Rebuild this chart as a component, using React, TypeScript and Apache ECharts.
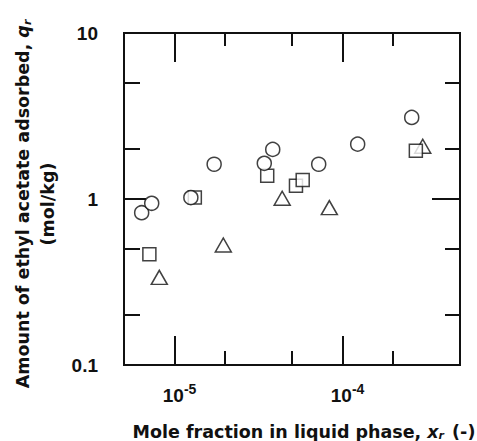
import React, { useEffect, useRef } from "react";
import * as echarts from "echarts";

const circleX = [6.37e-6, 7.31e-6, 1.25e-5, 1.72e-5, 3.42e-5, 3.84e-5, 7.21e-5, 1.23e-4, 2.58e-4];
const circleY = [0.827, 0.942, 1.02, 1.62, 1.64, 1.99, 1.62, 2.14, 3.1];
const squareX = [7.08e-6, 1.32e-5, 3.56e-5, 5.28e-5, 5.79e-5, 2.73e-4];
const squareY = [0.465, 1.02, 1.38, 1.2, 1.3, 1.95];
const triangleX = [8.11e-6, 1.95e-5, 4.37e-5, 8.34e-5, 3.0e-4];
const triangleY = [0.337, 0.528, 1.01, 0.887, 2.08];

const xMajor = [1e-5, 1e-4];
const xMinor = [2e-5, 5e-5, 2e-4];
const yMajor = [1];
const yMinor = [0.2, 0.5, 2, 5];
const yLabels = [0.1, 1, 10];

const TITLE_FONT = "DejaVu Sans";
const TICK_FONT = "Liberation Sans";
const INK = "#111";

function pairs(xs: number[], ys: number[]) {
  return xs.map((x, i) => [x, ys[i]]);
}

export default function App() {
  const ref = useRef<HTMLDivElement>(null);
  useEffect(() => {
    if (!ref.current) return;
    const chart = echarts.init(ref.current, null, { renderer: "svg" });
    const xRange = { type: "log" as const, min: 5e-6, max: 5e-4, splitLine: { show: false } };
    const yRange = { type: "log" as const, min: 0.1, max: 10, splitLine: { show: false } };
    const tickStyle = { color: INK, width: 2 };
    const mkX = (pos: "top" | "bottom", vals: number[], len: number, extra: any = {}) => ({
      ...xRange,
      position: pos,
      axisLine: { show: false },
      axisTick: { show: true, inside: true, length: len, customValues: vals, lineStyle: tickStyle },
      axisLabel: { show: false },
      ...extra,
    });
    const mkY = (pos: "left" | "right", vals: number[], len: number, extra: any = {}) => ({
      ...yRange,
      position: pos,
      axisLine: { show: false },
      axisTick: { show: true, inside: true, length: len, customValues: vals, lineStyle: tickStyle },
      axisLabel: { show: false },
      ...extra,
    });
    chart.setOption({
      animation: false,
      backgroundColor: "#fff",
      grid: {
        left: 124,
        top: 33,
        width: 336,
        height: 332,
        containLabel: false,
        outerBoundsMode: "none",
        show: true,
        borderColor: INK,
        borderWidth: 2,
        backgroundColor: "transparent",
      },
      xAxis: [
        mkX("bottom", xMajor, 29, {
          name: "Mole fraction in liquid phase, {i|x}{sub|r} (-)",
          nameLocation: "middle",
          nameGap: 57,
          nameTextStyle: {
            fontFamily: TITLE_FONT,
            fontSize: 17.5,
            fontWeight: "bold",
            color: INK,
            padding: [0, 0, 0, 24],
            rich: {
              i: { fontFamily: TITLE_FONT, fontSize: 17.5, fontWeight: "bold", fontStyle: "italic", color: INK },
              sub: { fontFamily: TITLE_FONT, fontSize: 11, fontWeight: "bold", fontStyle: "italic", color: INK, padding: [8, 2, 0, 0] },
            },
          },
          axisLabel: {
            show: true,
            customValues: xMajor,
            margin: 17,
            fontFamily: TICK_FONT,
            fontSize: 19,
            fontWeight: "bold",
            color: INK,
            padding: [0, 0, 0, 10],
            formatter: (v: number) => "10{sup|" + Math.round(Math.log10(v)) + "}",
            rich: {
              sup: { fontFamily: TICK_FONT, fontSize: 14, fontWeight: "bold", color: INK, padding: [0, 0, 12, 0] },
            },
          },
        }),
        mkX("bottom", xMinor, 14),
        mkX("top", xMajor, 29),
        mkX("top", xMinor, 13),
      ],
      yAxis: [
        mkY("left", yMajor, 22, {
          name: "Amount of ethyl acetate adsorbed, {i|q}{sub|r}\n(mol/kg)",
          nameLocation: "middle",
          nameRotate: 90,
          nameGap: 53,
          nameTextStyle: {
            fontFamily: TITLE_FONT,
            fontSize: 17.5,
            fontWeight: "bold",
            color: INK,
            lineHeight: 25,
            align: "center",
            padding: [0, 10, 0, 0],
            rich: {
              i: { fontFamily: TITLE_FONT, fontSize: 17.5, fontWeight: "bold", fontStyle: "italic", color: INK, lineHeight: 25 },
              sub: { fontFamily: TITLE_FONT, fontSize: 11, fontWeight: "bold", fontStyle: "italic", color: INK, lineHeight: 25, padding: [8, 0, 0, 0] },
            },
          },
          axisLabel: {
            show: true,
            customValues: yLabels,
            margin: 26,
            fontFamily: TICK_FONT,
            fontSize: 19,
            fontWeight: "bold",
            color: INK,
            padding: [0, 0, 13, 0],
            formatter: (v: number) => String(v),
          },
        }),
        mkY("left", yMinor, 16),
        mkY("right", yMajor, 28),
        mkY("right", yMinor, 15),
      ],
      series: [
        {
          type: "scatter",
          name: "triangle",
          data: pairs(triangleX, triangleY),
          symbol: "triangle",
          symbolSize: [16, 14],
          itemStyle: { color: "#fff", borderColor: INK, borderWidth: 1.5 },
          z: 3,
        },
        {
          type: "scatter",
          name: "square",
          data: pairs(squareX, squareY),
          symbol: "rect",
          symbolSize: 13,
          itemStyle: { color: "#fff", borderColor: INK, borderWidth: 1.5 },
          z: 4,
        },
        {
          type: "scatter",
          name: "circle",
          data: pairs(circleX, circleY),
          symbol: "circle",
          symbolSize: 14,
          itemStyle: { color: "#fff", borderColor: INK, borderWidth: 1.5 },
          z: 5,
        },
      ],
    });
    return () => chart.dispose();
  }, []);
  return <div ref={ref} style={{ position: "absolute", left: 0, top: 0, width: 477, height: 441 }} />;
}
